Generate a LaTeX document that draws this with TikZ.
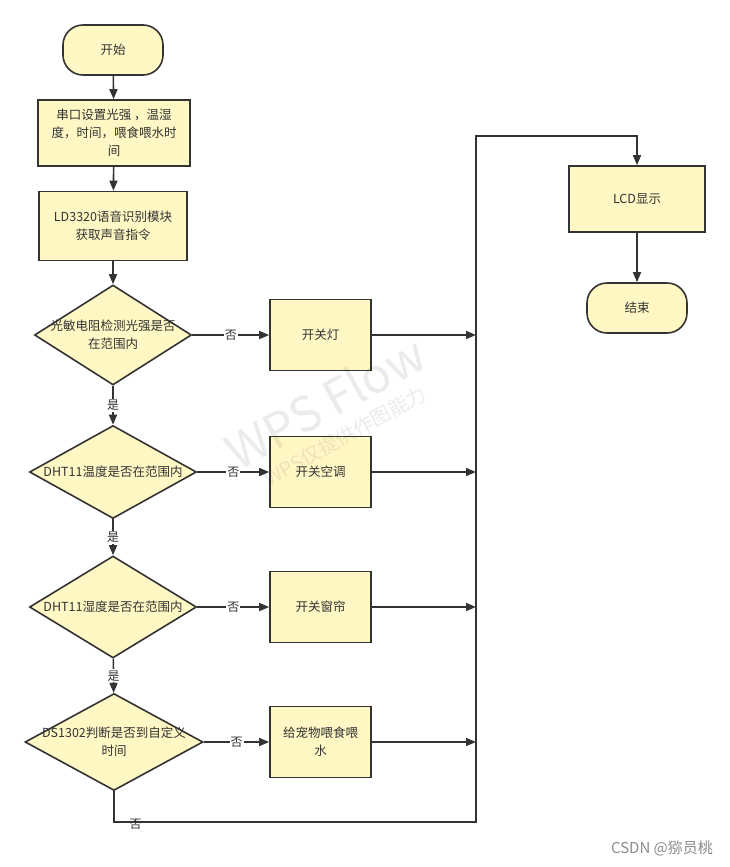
\documentclass[tikz,border=0pt]{standalone}
\usepackage{fontspec}
\setmainfont{Noto Sans CJK SC}
\usepackage{xcolor}
\usetikzlibrary{arrows.meta, positioning, shapes.geometric}

\definecolor{boxfill}{RGB}{255,247,196}
\definecolor{edge}{RGB}{51,51,51}

\tikzset{
    every node/.style={font=\fontsize{12.5}{18}\selectfont, text=edge},
    base/.style={draw=edge, line width=1.6pt, fill=boxfill, align=center, inner sep=0pt},
    terminal/.style={base, rectangle, rounded corners=20pt, minimum width=100pt, minimum height=50pt},
    process/.style={base, rectangle, minimum width=101pt, minimum height=71pt},
    decision/.style={base, diamond},
    flow/.style={draw=edge, line width=1.6pt, -{Triangle[length=10pt, width=8pt]}},
    tag/.style={fill=white, inner sep=1pt, font=\fontsize{12}{14}\selectfont},
    wmark/.style={text=black, text opacity=0.08, rotate=29, inner sep=0pt}
}

\begin{document}
\begin{tikzpicture}[x=1pt, y=-1pt]
    \useasboundingbox (0,0) rectangle (729,867);

    % main column
    \node[terminal] (start) at (113,50) {开始};
    \node[process, minimum width=152pt, minimum height=66pt] (setup) at (114,133)
        {串口设置光强 ，温湿\\度，时间，喂食喂水时\\间};
    \node[process, minimum width=148pt, minimum height=69pt] (voice) at (113,226)
        {LD3320语音识别模块\\获取声音指令};
    \node[decision, minimum width=157pt, minimum height=100pt,
          label={[align=center]center:光敏电阻检测光强是否\\在范围内}] (dlight) at (113,335) {};
    \node[decision, minimum width=167pt, minimum height=93pt,
          label={center:DHT11温度是否在范围内}] (dtemp) at (113,472) {};
    \node[decision, minimum width=167pt, minimum height=102pt,
          label={center:DHT11湿度是否在范围内}] (dhum) at (113,607) {};
    \node[decision, minimum width=178pt, minimum height=97pt,
          label={[align=center]center:DS1302判断是否到自定义\\时间}] (dtime) at (114,742) {};

    % actions
    \node[process] (lamp) at (320.5,335) {开关灯};
    \node[process] (aircon) at (320.5,472) {开关空调};
    \node[process] (curtain) at (320.5,607) {开关窗帘};
    \node[process] (feed) at (320.5,742) {给宠物喂食喂\\水};

    % right column
    \node[process, minimum width=136pt, minimum height=66pt] (lcd) at (637,199) {LCD显示};
    \node[terminal] (stop) at (637,308) {结束};

    \coordinate (bustop) at (476,136);
    \coordinate (busbot) at (476,822);

    \draw[flow] (start) -- (setup);
    \draw[flow] (setup) -- (voice);
    \draw[flow] (voice) -- (dlight);
    \draw[flow] (dlight) -- node[tag] {是} (dtemp);
    \draw[flow] (dtemp) -- node[tag] {是} (dhum);
    \draw[flow] (dhum) -- node[tag] {是} (dtime);

    \draw[flow] (dlight) -- node[tag] {否} (lamp);
    \draw[flow] (dtemp) -- node[tag] {否} (aircon);
    \draw[flow] (dhum) -- node[tag] {否} (curtain);
    \draw[flow] (dtime) -- node[tag] {否} (feed);

    \draw[flow] (lamp) -- (lamp -| bustop);
    \draw[flow] (aircon) -- (aircon -| bustop);
    \draw[flow] (curtain) -- (curtain -| bustop);
    \draw[flow] (feed) -- (feed -| bustop);

    \draw[flow] (dtime.south) |- node[pos=0.53, below, yshift=5pt, inner sep=1pt, font=\fontsize{12}{14}\selectfont] {否} (busbot)
        -- (bustop) -| (lcd.north);
    \draw[flow] (lcd) -- (stop);

    % watermarks
    \node[wmark, font=\fontsize{48}{50}\selectfont] (wps) at (325,402) {WPS Flow};
    \node[wmark, font=\fontsize{20}{24}\selectfont] (wpsnote) at (345,436) {WPS仅提供作图能力};
    \node[text=black!45, font=\fontsize{15}{18}\selectfont] (csdn) at (662,848) {CSDN @猕员桃};
\end{tikzpicture}
\end{document}
